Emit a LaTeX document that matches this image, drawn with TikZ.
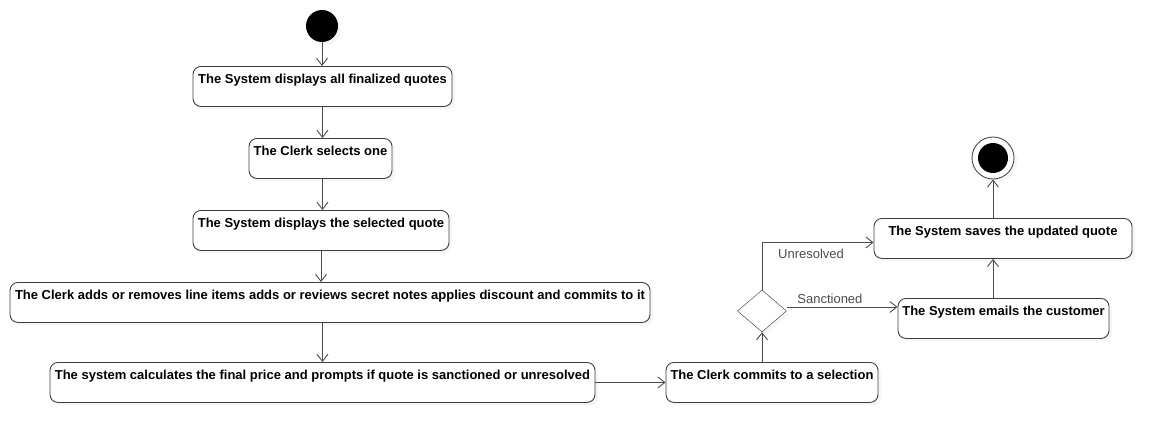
\documentclass[tikz,border=0pt]{standalone}
\usepackage{fontspec}
\setmainfont{Liberation Sans}
\usetikzlibrary{arrows.meta,shapes.geometric,shadows}

\begin{document}
\begin{tikzpicture}[x=1pt,y=-1pt,>={Straight Barb[length=7pt,width=11pt]},
        act/.style={draw=black!75,line width=0.9pt,rounded corners=8pt,fill=white,
                drop shadow={fill=black!8,shadow xshift=3pt,shadow yshift=-3pt},
                font=\bfseries\fontsize{13}{15}\selectfont,text height=17pt,text depth=23pt,
                inner ysep=0pt,inner xsep=0pt,anchor=north},
        flow/.style={->,draw=black!70,line width=0.9pt},
        guard/.style={font=\fontsize{13}{15}\selectfont,text=black!70}]
        \useasboundingbox (0,0) rectangle (1171,442);
        \node[circle,fill=black,minimum size=32pt,inner sep=0pt,
                drop shadow={fill=black!8,shadow xshift=3pt,shadow yshift=-3pt}] (start) at (322,26) {};
        \node[act,minimum width=259pt] (shows) at (322.5,66) {The System displays all finalized quotes};
        \node[act,minimum width=143pt] (pick) at (320.5,138) {The Clerk selects one};
        \node[act,minimum width=256pt] (detail) at (321,210) {The System displays the selected quote};
        \node[act,minimum width=640pt] (edit) at (330,282) {The Clerk adds or removes line items adds or reviews secret notes applies discount and commits to it};
        \node[act,minimum width=545pt] (calc) at (322.5,362) {The system calculates the final price and prompts if quote is sanctioned or unresolved};
        \node[act,minimum width=212pt] (commit) at (772,362) {The Clerk commits to a selection};
        \node[diamond,draw=black!80,fill=white,minimum width=49pt,minimum height=42pt,aspect=1.17,inner sep=0pt,
                drop shadow={fill=black!8,shadow xshift=3pt,shadow yshift=-3pt}] (branch) at (762,311) {};
        \node[act,minimum width=258pt] (save) at (1003,218) {The System saves the updated quote};
        \node[act,minimum width=211pt] (mail) at (1003.5,298) {The System emails the customer};
        \node[circle,draw=black!70,line width=0.9pt,fill=white,minimum size=42pt,inner sep=0pt,
                drop shadow={fill=black!8,shadow xshift=3pt,shadow yshift=-3pt}] (stop) at (993,158) {};
        \node[circle,fill=black,minimum size=30pt,inner sep=0pt] (stopdot) at (stop) {};
        \draw[flow](start.south)--(start.south |- shows.north);
        \draw[flow](shows.south)--(shows.south |- pick.north);
        \draw[flow](pick.south -| shows.south)--(shows.south |- detail.north);
        \draw[flow](detail.south)--(detail.south |- edit.north);
        \draw[flow](calc.north |- edit.south)--(calc.north);
        \draw[flow](calc.east)--(commit.west);
        \draw[flow](branch.south |- commit.north)--(branch.south);
        \draw[flow](branch.north)|-node[guard,below,pos=0.72,yshift=-3pt]{Unresolved}([yshift=-4pt]save.west);
        \draw[flow]([yshift=4pt]branch.east)--node[guard,above,pos=0.39]{Sanctioned}([yshift=4pt]branch.east -| mail.west);
        \draw[flow](stop.south |- mail.north)--(stop.south |- save.south);
        \draw[flow](stop.south |- save.north)--(stop.south);
    \end{tikzpicture}
\end{document}
